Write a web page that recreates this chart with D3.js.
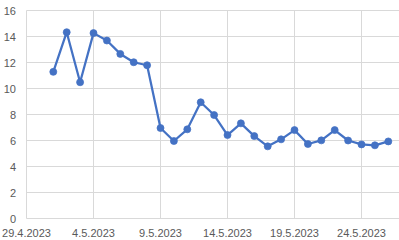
<!DOCTYPE html>
<html><head><meta charset="utf-8">
<script src="https://cdn.jsdelivr.net/npm/d3@7"></script>
<style>body{margin:0;background:#fff;}svg{display:block;}</style>
</head><body>
<svg id="c" width="399" height="240"></svg>
<script>
const dates = ["2023-05-01","2023-05-02","2023-05-03","2023-05-04","2023-05-05","2023-05-06","2023-05-07","2023-05-08","2023-05-09","2023-05-10","2023-05-11","2023-05-12","2023-05-13","2023-05-14","2023-05-15","2023-05-16","2023-05-17","2023-05-18","2023-05-19","2023-05-20","2023-05-21","2023-05-22","2023-05-23","2023-05-24","2023-05-25","2023-05-26"];
const values = [11.28,14.33,10.48,14.26,13.69,12.66,12.02,11.79,6.96,5.96,6.86,8.94,7.96,6.42,7.32,6.34,5.55,6.09,6.8,5.73,6.01,6.8,6.0,5.7,5.63,5.93];
const xTickDates = ["2023-04-29","2023-05-04","2023-05-09","2023-05-14","2023-05-19","2023-05-24"];
const xTickLabels = ["29.4.2023","4.5.2023","9.5.2023","14.5.2023","19.5.2023","24.5.2023"];
const yTicks = [0,2,4,6,8,10,12,14,16];

const parse = d3.utcParse("%Y-%m-%d");
const svg = d3.select("#c");
const x = d3.scaleUtc().domain([parse("2023-04-29"), parse("2023-05-27")]).range([26.5, 26.5 + 28*13.4]);
const y = d3.scaleLinear().domain([0,16]).range([218.5, 10.5]);
const right = 399;
const font = "'Liberation Sans', Arial, sans-serif";

// horizontal gridlines
svg.append("g").selectAll("line").data(yTicks).join("line")
  .attr("x1", x.range()[0]).attr("x2", right)
  .attr("y1", d => Math.floor(y(d)) + 0.5).attr("y2", d => Math.floor(y(d)) + 0.5)
  .attr("stroke", "#d9d9d9").attr("stroke-width", 1);
// vertical gridlines
svg.append("g").selectAll("line").data(xTickDates).join("line")
  .attr("x1", d => Math.floor(x(parse(d))) + 0.5).attr("x2", d => Math.floor(x(parse(d))) + 0.5)
  .attr("y1", y(16)).attr("y2", y(0))
  .attr("stroke", "#d9d9d9").attr("stroke-width", 1);

// y labels
svg.append("g").selectAll("text").data(yTicks).join("text")
  .attr("x", 16).attr("y", d => y(d) + 4)
  .attr("text-anchor", "end").attr("font-family", font).attr("font-size", "11px").attr("fill", "#595959")
  .text(d => d);
// x labels
svg.append("g").selectAll("text").data(xTickDates).join("text")
  .attr("x", d => x(parse(d))).attr("y", 236.5)
  .attr("text-anchor", "middle").attr("font-family", font).attr("font-size", "11px").attr("fill", "#595959")
  .text((d,i) => xTickLabels[i]);

const pts = dates.map((d,i) => ({date: parse(d), v: values[i]}));
svg.append("path").datum(pts)
  .attr("fill", "none").attr("stroke", "#4472C4").attr("stroke-width", 2.25).attr("stroke-linejoin", "round")
  .attr("d", d3.line().x(d => x(d.date)).y(d => y(d.v)));
svg.append("g").selectAll("circle").data(pts).join("circle")
  .attr("cx", d => x(d.date)).attr("cy", d => y(d.v)).attr("r", 3.5)
  .attr("fill", "#4472C4").attr("stroke", "#4472C4").attr("stroke-width", 0.75);
</script>
</body></html>
